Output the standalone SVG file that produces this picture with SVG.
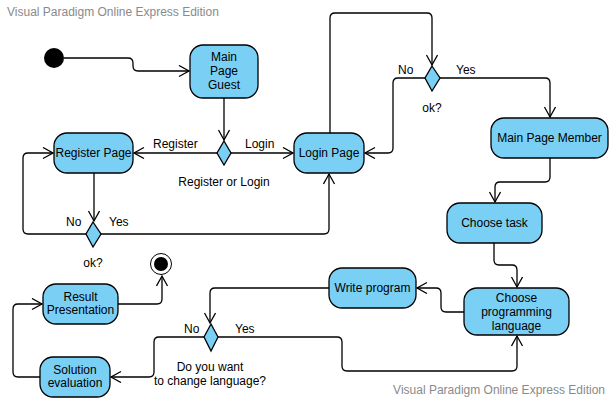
<svg xmlns="http://www.w3.org/2000/svg" width="611" height="400" viewBox="0 0 611 400">
<defs>
<marker id="arr" markerUnits="userSpaceOnUse" markerWidth="14" markerHeight="14" refX="11" refY="6" orient="auto">
<path d="M1,0.5 L11,6 L1,11.5" fill="none" stroke="#000" stroke-width="1.3"/>
</marker>
</defs>
<style>
.node{fill:#7ACFF5;stroke:#000;stroke-width:1.3}
.t{font-family:"Liberation Sans",Arial,sans-serif;font-size:12px;fill:#000;text-anchor:middle}
.l{font-family:"Liberation Sans",Arial,sans-serif;font-size:12px;fill:#000}
.wm{font-family:"Liberation Sans",Arial,sans-serif;font-size:12px;fill:#8a8a8a}
.c{fill:none;stroke:#000;stroke-width:1.3;marker-end:url(#arr)}
</style>
<rect width="611" height="400" fill="#fff"/>
<text class="wm" x="7" y="16">Visual Paradigm Online Express Edition</text>
<text class="wm" x="605" y="394" text-anchor="end">Visual Paradigm Online Express Edition</text>

<g id="connectors">
<path class="c" d="M64,58 H128 Q133,58 133,63 V66 Q133,71 138,71 H189"/>
<path class="c" d="M224,98 V140"/>
<path class="c" d="M217,153 H134"/>
<path class="c" d="M231,153 H293"/>
<path class="c" d="M94,173 V221"/>
<path class="c" d="M86,234 H28 Q23,234 23,229 V158 Q23,153 28,153 H53"/>
<path class="c" d="M101,234 H324 Q329,234 329,229 V174"/>
<path class="c" d="M330,133 V18 Q330,13 335,13 H427 Q432,13 432,18 V65"/>
<path class="c" d="M425,78 H398 Q393,78 393,83 V148 Q393,153 388,153 H365"/>
<path class="c" d="M440,78 H545 Q550,78 550,83 V117"/>
<path class="c" d="M550,158 V177 Q550,182 545,182 H500 Q495,182 495,187 V202"/>
<path class="c" d="M494,243 V260 Q494,265 499,265 H512 Q517,265 517,270 V287"/>
<path class="c" d="M464,312 H446 Q441,312 441,307 V293 Q441,288 436,288 H417"/>
<path class="c" d="M329,288 H215 Q210,288 210,293 V323"/>
<path class="c" d="M218,337 H337 Q342,337 342,342 V366 Q342,371 347,371 H512 Q517,371 517,366 V336"/>
<path class="c" d="M204,337 H159 Q154,337 154,342 V372 Q154,377 149,377 H111"/>
<path class="c" d="M40,377 H18 Q13,377 13,372 V309 Q13,304 18,304 H42"/>
<path class="c" d="M118,304 H157 Q162,304 162,299 V276"/>
</g>

<g id="initial"><circle cx="54" cy="58" r="10" fill="#000"/></g>

<g id="mainPageGuest">
<rect class="node" x="190" y="45" width="68" height="53" rx="13"/>
<text class="t" x="224" y="61">Main</text>
<text class="t" x="224" y="75">Page</text>
<text class="t" x="224" y="89">Guest</text>
</g>

<g id="registerPage">
<rect class="node" x="54" y="133" width="79" height="40" rx="13"/>
<text class="t" x="93.5" y="157">Register Page</text>
</g>

<g id="decisionRegLogin">
<path class="node" d="M224,141 L231,153 L224,165 L217,153 Z"/>
<text class="l" x="153" y="148">Register</text>
<text class="l" x="245" y="148">Login</text>
<text class="t" x="224" y="186">Register or Login</text>
</g>

<g id="loginPage">
<rect class="node" x="294" y="133" width="70" height="40" rx="13"/>
<text class="t" x="329" y="157">Login Page</text>
</g>

<g id="decisionOkTop">
<path class="node" d="M432,66 L440,78 L432,91 L425,78 Z"/>
<text class="l" x="398" y="74">No</text>
<text class="l" x="456" y="74">Yes</text>
<text class="t" x="432" y="112">ok?</text>
</g>

<g id="mainPageMember">
<rect class="node" x="491" y="118" width="117" height="40" rx="13"/>
<text class="t" x="549.5" y="142">Main Page Member</text>
</g>

<g id="chooseTask">
<rect class="node" x="447" y="203" width="95" height="40" rx="13"/>
<text class="t" x="494.5" y="227">Choose task</text>
</g>

<g id="chooseLanguage">
<rect class="node" x="464" y="288" width="105" height="47" rx="13"/>
<text class="t" x="516.5" y="302">Choose</text>
<text class="t" x="516.5" y="316">programming</text>
<text class="t" x="516.5" y="330">language</text>
</g>

<g id="writeProgram">
<rect class="node" x="329" y="268" width="87" height="40" rx="13"/>
<text class="t" x="372.5" y="292">Write program</text>
</g>

<g id="decisionOkBottom">
<path class="node" d="M93,222 L101,234 L93,247 L86,234 Z"/>
<text class="l" x="66" y="226">No</text>
<text class="l" x="109" y="226">Yes</text>
<text class="t" x="93" y="267">ok?</text>
</g>

<g id="final">
<circle cx="161" cy="264" r="10.5" fill="#fff" stroke="#000" stroke-width="1"/>
<circle cx="161" cy="264" r="7" fill="#000"/>
</g>

<g id="resultPresentation">
<rect class="node" x="43" y="284" width="75" height="40" rx="13"/>
<text class="t" x="80.5" y="301">Result</text>
<text class="t" x="80.5" y="314">Presentation</text>
</g>

<g id="decisionChangeLang">
<path class="node" d="M211,324 L218,337 L211,351 L204,337 Z"/>
<text class="l" x="184" y="333">No</text>
<text class="l" x="235" y="333">Yes</text>
<text class="t" x="210" y="371">Do you want</text>
<text class="t" x="210" y="385">to change language?</text>
</g>

<g id="solutionEvaluation">
<rect class="node" x="40" y="357" width="70" height="40" rx="13"/>
<text class="t" x="75" y="374">Solution</text>
<text class="t" x="75" y="387">evaluation</text>
</g>
</svg>
